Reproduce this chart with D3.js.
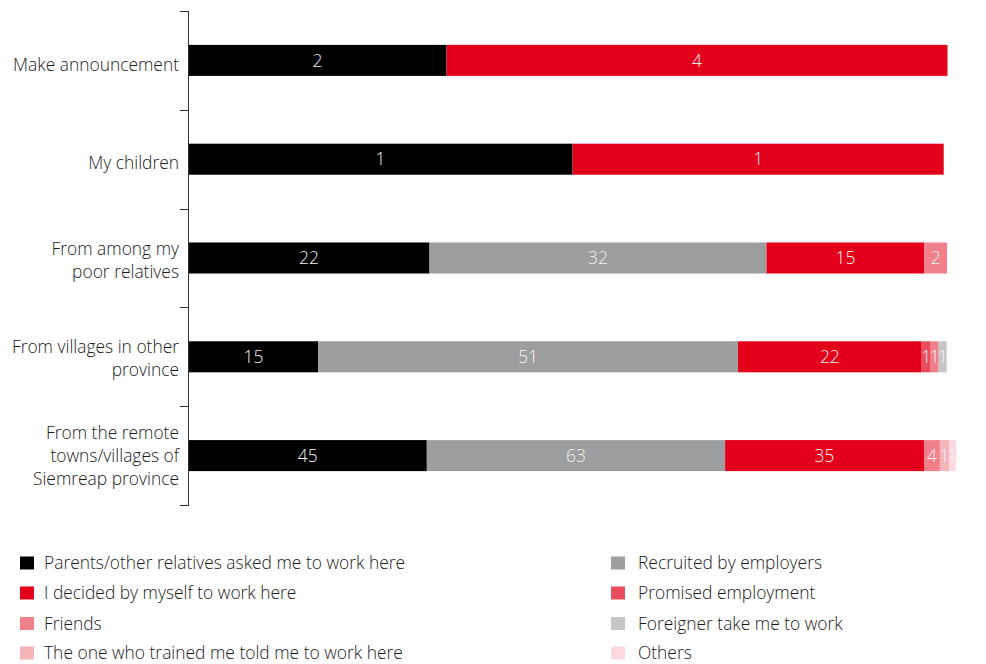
<!DOCTYPE html>
<html><head><meta charset="utf-8">
<script src="https://cdn.jsdelivr.net/npm/d3@7"></script>
<style>
body{margin:0;background:#fff;}
svg text{font-family:"Open Sans","Liberation Sans",sans-serif;font-weight:300;}
</style></head>
<body><svg id="chart" width="986" height="664"></svg>
<script>
// Categories (top to bottom)
const categories = [
  ["Make announcement"],
  ["My children"],
  ["From among my", "poor relatives"],
  ["From villages in other", "province"],
  ["From the remote", "towns/villages of", "Siemreap province"]
];
const seriesNames = [
  "Parents/other relatives asked me to work here",
  "Recruited by employers",
  "I decided by myself to work here",
  "Promised employment",
  "Friends",
  "Foreigner take me to work",
  "The one who trained me told me to work here",
  "Others"
];
// Bar shares (% of row)
const parentsShare   = [34.0, 50.6, 31.75, 17.1, 31.4];
const recruitedShare = [0, 0, 44.4, 55.3, 39.3];
const decidedShare   = [66.0, 48.9, 20.8, 24.2, 26.2];
const promisedShare  = [0, 0, 0, 1.19, 0];
const friendsShare   = [0, 0, 3.0, 1.05, 2.1];
const foreignerShare = [0, 0, 0, 1.05, 0];
const trainerShare   = [0, 0, 0, 0, 1.19];
const othersShare    = [0, 0, 0, 0, 0.92];
// Printed counts (labels)
const parentsCount   = [2, 1, 22, 15, 45];
const recruitedCount = [null, null, 32, 51, 63];
const decidedCount   = [4, 1, 15, 22, 35];
const promisedCount  = [null, null, null, 1, null];
const friendsCount   = [null, null, 2, 1, 4];
const foreignerCount = [null, null, null, 1, null];
const trainerCount   = [null, null, null, null, 1];
const othersCount    = [null, null, null, null, 1];
const colors = ["#000000","#9d9ea0","#e2001a","#e84d5d","#f0808a","#c6c6c8","#f5b4ba","#fbd9dd"];

const shares = [parentsShare, recruitedShare, decidedShare, promisedShare, friendsShare, foreignerShare, trainerShare, othersShare];
const counts = [parentsCount, recruitedCount, decidedCount, promisedCount, friendsCount, foreignerCount, trainerCount, othersCount];

const FS = 17.4;
const svg = d3.select("#chart");
const x = d3.scaleLinear().domain([0, 100]).range([188.5, 947.5]);
const y = d3.scaleBand().domain(d3.range(categories.length)).range([11, 505]).paddingInner(0.686).paddingOuter(0.343);
const yLabel = d3.scalePoint().domain(d3.range(categories.length)).range([65, 456]);

const rows = categories.map((c, i) => {
  const obj = {i};
  seriesNames.forEach((s, k) => obj[k] = shares[k][i]);
  return obj;
});
const stack = d3.stack().keys(d3.range(seriesNames.length))(rows);

const g = svg.append("g");
stack.forEach((layer, k) => {
  layer.forEach((d, i) => {
    if (!shares[k][i]) return;
    g.append("rect")
      .attr("x", x(d[0])).attr("y", y(i))
      .attr("width", x(d[1]) - x(d[0])).attr("height", y.bandwidth())
      .attr("fill", colors[k]);
  });
});
stack.forEach((layer, k) => {
  layer.forEach((d, i) => {
    if (counts[k][i] == null) return;
    g.append("text")
      .attr("x", (x(d[0]) + x(d[1])) / 2).attr("y", y(i) + y.bandwidth() / 2)
      .attr("dy", "0.36em").attr("text-anchor", "middle")
      .attr("font-size", FS).attr("fill", "#f2f2f2")
      .text(counts[k][i]);
  });
});

// Axis
const axisG = svg.append("g");
const step = y.step(), gap = step * y.paddingInner();
const bounds = d3.range(categories.length).map(i => y(i) - gap / 2);
bounds.push(y(categories.length - 1) + y.bandwidth() + gap / 2);
axisG.append("line").attr("x1", 188.5).attr("x2", 188.5)
  .attr("y1", Math.round(bounds[0])).attr("y2", Math.round(bounds[bounds.length - 1]) + 1)
  .attr("stroke", "#333").attr("stroke-width", 1);
bounds.forEach(b => {
  axisG.append("line").attr("x1", 180).attr("x2", 188.5).attr("y1", Math.round(b) + 0.5).attr("y2", Math.round(b) + 0.5).attr("stroke", "#333");
});
categories.forEach((lines, i) => {
  const cy = yLabel(i);
  const t = axisG.append("text").attr("text-anchor", "end").attr("font-size", FS).attr("fill", "#1a1a1a");
  lines.forEach((ln, j) => {
    t.append("tspan").attr("x", 179).attr("y", cy + (j - (lines.length - 1) / 2) * 23).attr("dy", "0.36em").text(ln);
  });
});

// Legend
const legendLeft = [0, 2, 4, 6];
const legendRight = [1, 3, 5, 7];
const legendY = [563, 593, 623.5, 653];
const lg = svg.append("g");
[[legendLeft, 20, 44], [legendRight, 611, 638]].forEach(([keys, sx, tx]) => {
  keys.forEach((k, j) => {
    lg.append("rect").attr("x", sx).attr("y", legendY[j] - 6.5).attr("width", 14).attr("height", 13).attr("fill", colors[k]);
    lg.append("text").attr("x", tx).attr("y", legendY[j]).attr("dy", "0.36em").attr("font-size", FS).attr("fill", "#1a1a1a").text(seriesNames[k]);
  });
});
</script></body></html>
